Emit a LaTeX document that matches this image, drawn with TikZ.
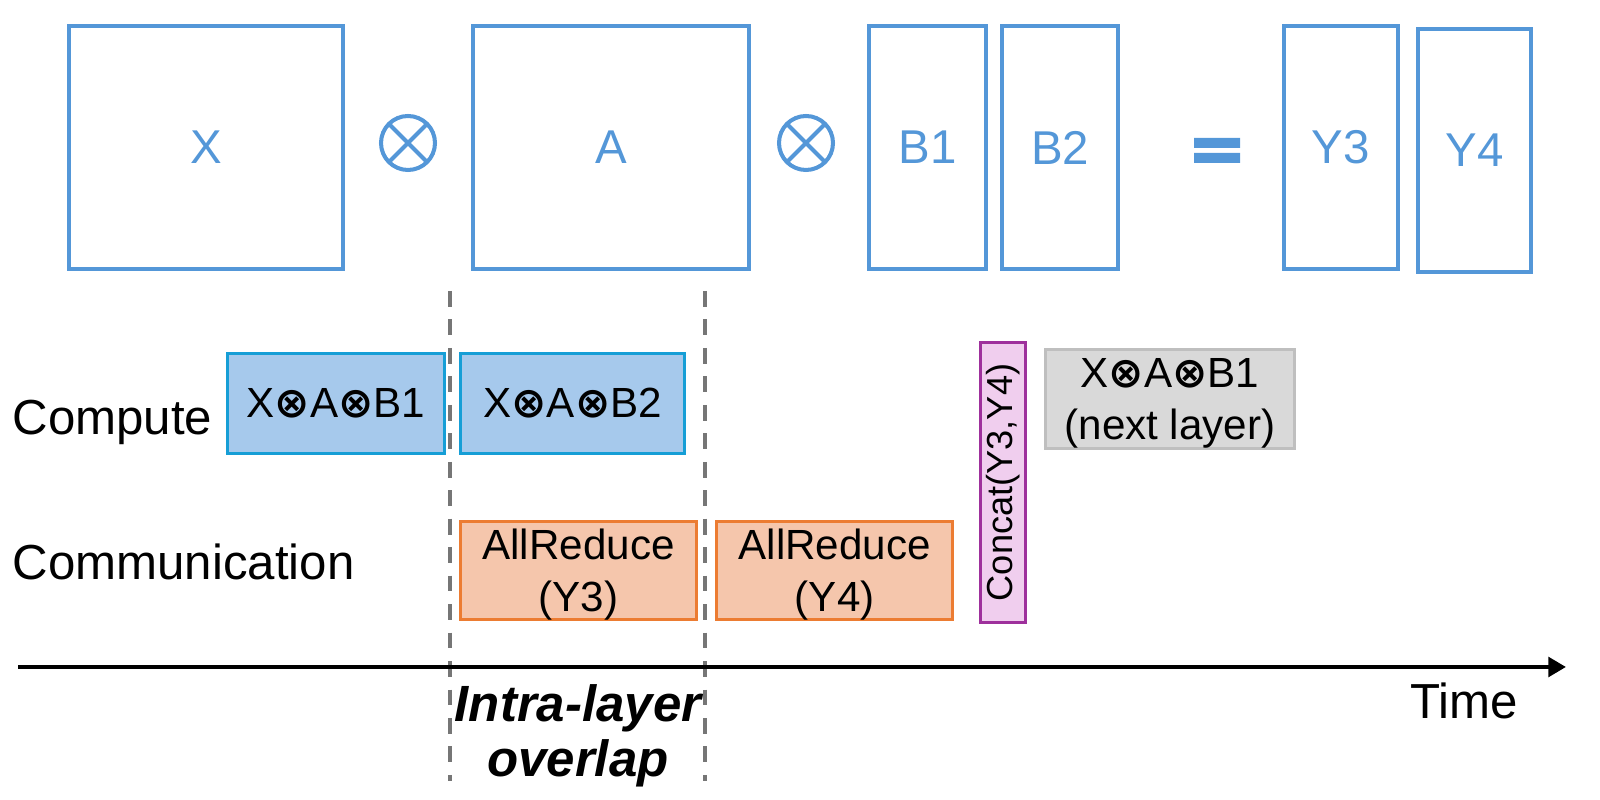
\documentclass[tikz,border=0pt]{standalone}
\usepackage{fontspec}
\setmainfont{Liberation Sans}
\newfontfamily\symfont{DejaVu Sans}
\usepackage{tikz}
\usetikzlibrary{arrows.meta,positioning}

\definecolor{matblue}{RGB}{84,151,216}
\definecolor{compborder}{RGB}{22,158,214}
\definecolor{compfill}{RGB}{166,201,236}
\definecolor{commborder}{RGB}{236,124,50}
\definecolor{commfill}{RGB}{245,198,172}
\definecolor{catborder}{RGB}{158,48,156}
\definecolor{catfill}{RGB}{240,206,238}
\definecolor{nextborder}{RGB}{191,191,191}
\definecolor{nextfill}{RGB}{217,217,217}
\definecolor{sepgray}{RGB}{118,118,118}

\newcommand{\bigox}{{\symfont\bfseries ⊗}}

\begin{document}
\begin{tikzpicture}[x=0.1mm, y=-0.1mm,
    matbox/.style={draw=matblue, line width=1.15pt, text=matblue, inner sep=0pt, minimum height=2.43cm, font=\fontsize{13.5}{16}\selectfont},
    opline/.style={draw=matblue, line width=1.15pt},
    task/.style={line width=0.9pt, inner sep=0pt, align=center, minimum height=1cm, font=\fontsize{12}{14.8}\selectfont},
    comp/.style={task, draw=compborder, fill=compfill},
    comm/.style={task, draw=commborder, fill=commfill, text depth=-1.5pt},
    concat/.style={task, draw=catborder, fill=catfill, line width=1.1pt, font=\fontsize{10.3}{12}\selectfont},
    nextl/.style={task, draw=nextborder, fill=nextfill, text depth=-1.5pt},
    lane/.style={anchor=base west, inner sep=0pt, font=\fontsize{14}{16}\selectfont},
    overlapline/.style={draw=sepgray, line width=1.3pt, dash pattern=on 4.5pt off 3.6pt},
  ]
                \useasboundingbox (0,0) rectangle (1600,800);
%matrices
                \node[matbox, minimum width=2.74cm] (x) at (206,147.5) {X};
                \node[matbox, minimum width=2.76cm] (a) at (611,147.5) {A};
                \node[matbox, minimum width=1.17cm] (b1) at (927.5,147.5) {B1};
                \node[matbox, minimum width=1.16cm, right=0.12cm of b1] (b2) {B2};
                \node[matbox, minimum width=1.14cm] (y3) at (1341,147.5) {Y3};
                \node[matbox, minimum width=1.13cm] (y4) at (1474.5,150.5) {Y4};
                \foreach \cx in {408,806}{
                  \draw[opline] (\cx,143) circle (2.7mm);
                  \draw[opline] (\cx,143) +(45:2.7mm) -- +(225:2.7mm)
                                          +(135:2.7mm) -- +(-45:2.7mm);
                }
                \fill[matblue] (1194,138) rectangle (1240,148)
                               (1194,153) rectangle (1240,163);
%timeline
                \coordinate (o1t) at (450,291);
                \coordinate (o1b) at (450,781);
                \coordinate (o2t) at (705,291);
                \coordinate (o2b) at (705,781);
                \draw[overlapline] (o1t) -- (o1b);
                \draw[overlapline] (o2t) -- (o2b);
                \node[comp, minimum width=2.17cm] (c1) at (336,403.5) {X\bigox A\bigox B1};
                \node[comp, minimum width=2.24cm, right=0.13cm of c1] (c2) {X\bigox A\bigox B2};
                \node[comm, minimum width=2.36cm, minimum height=0.98cm] (r1) at (578.5,570.5) {AllReduce\\(Y3)};
                \node[comm, minimum width=2.36cm, minimum height=0.98cm, right=0.17cm of r1] (r2) {AllReduce\\(Y4)};
                \node[concat, rotate=90, minimum width=2.8cm, minimum height=0.45cm] (cat) at (1003,482.5) {Concat(Y3,Y4)};
                \node[nextl, minimum width=2.49cm, minimum height=0.99cm] (nx) at (1170,399) {X\bigox A\bigox B1\\(next layer)};
                \node[lane] (cpl) at (12,435) {Compute};
                \node[lane] (cml) at (12,580) {Communication};
%axis
                \coordinate (t0) at (18,667);
                \coordinate (t1) at (1566,667);
                \draw[line width=1.2pt, -{Triangle[length=5pt, width=5.5pt]}] (t0) -- (t1);
                \node[lane, anchor=base] (tl) at (1464,719) {Time};
                \node[align=center, font=\bfseries\itshape\fontsize{14.5}{15.6}\selectfont] (ov) at (578,736) {Intra-layer\\overlap};
\end{tikzpicture}
\end{document}
